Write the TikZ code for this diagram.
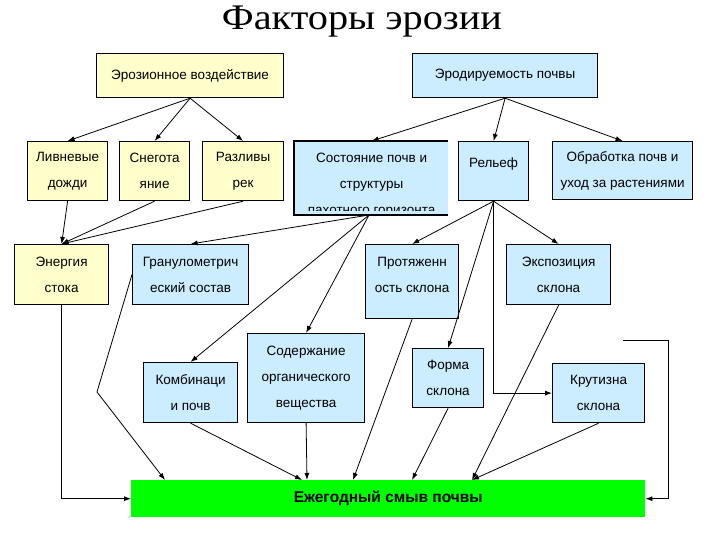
\documentclass[tikz,border=0pt]{standalone}
\usepackage{fontspec}
\setmainfont{Liberation Serif}
\setsansfont{Liberation Sans}
\newfontfamily\titlefont[FakeStretch=1.12]{Liberation Serif}
\usetikzlibrary{arrows.meta,positioning,calc}

\definecolor{boxyellow}{RGB}{255,255,204}
\definecolor{boxblue}{RGB}{204,236,255}
\definecolor{smyvgreen}{RGB}{0,255,0}

\begin{document}
\begin{tikzpicture}[x=1pt, y=-1pt, >={Latex[length=7pt,width=5pt]},
  every node/.style={font=\sffamily\fontsize{13.5}{26}\selectfont},
  box/.style={draw, line width=1.2pt, anchor=north west, align=center, inner sep=2pt},
  ybox/.style={box, fill=boxyellow},
  bbox/.style={box, fill=boxblue},
  link/.style={->, line width=0.8pt}]
\useasboundingbox[fill=white] (0,0) rectangle (720,540);

\node[font=\titlefont\fontsize{36}{36}\selectfont, anchor=base] (title) at (362,30) {Факторы эрозии};

\node[ybox, minimum width=187pt, minimum height=44pt] (erz) at (96,53) {Эрозионное воздействие};
\node[bbox, minimum width=185pt, minimum height=44pt] (erd) at (412,53) {Эродируемость почвы};

\node[ybox, minimum width=80pt, minimum height=59pt] (liv) at (27,141) {Ливневые\\дожди};
\node[ybox, minimum width=70pt, minimum height=59pt] (sneg) at (119,141) {Снегота\\яние};
\node[ybox, minimum width=81pt, minimum height=59pt] (razl) at (202,141) {Разливы\\рек};
% cut-off box
\fill[boxblue] (294,141) rectangle (448,215);
\begin{scope}
  \clip (294,141) rectangle (448,211);
  \node[box, draw=none, minimum width=154pt, minimum height=88pt] (sost) at (294,141) {Состояние почв и\\структуры\\пахотного горизонта};
\end{scope}
\draw[line width=1.2pt] (448,141) -- (294,141) -- (294,215) -- (448,215);
\coordinate (sost-s) at (369,215);
\node[bbox, minimum width=70pt, minimum height=59pt, text depth=16pt] (rel) at (458,141) {Рельеф};
\node[bbox, minimum width=140pt, minimum height=58pt] (obr) at (552,141) {Обработка почв и\\уход за растениями};

\node[ybox, minimum width=94pt, minimum height=60pt] (energ) at (14,244) {Энергия\\стока};
\node[bbox, minimum width=116pt, minimum height=60pt] (gran) at (132,244) {Гранулометрич\\еский состав};
\node[bbox, minimum width=93pt, minimum height=74pt, text depth=14pt] (prot) at (365,244) {Протяженн\\ость склона};
\node[bbox, minimum width=104pt, minimum height=60pt] (eksp) at (506,244) {Экспозиция\\склона};

\node[bbox, minimum width=117pt, minimum height=89pt] (sod) at (247,333) {Содержание\\органического\\вещества};
\node[bbox, minimum width=94pt, minimum height=60pt] (komb) at (143,362) {Комбинаци\\и почв};
\node[bbox, minimum width=71pt, minimum height=59pt] (forma) at (412,348) {Форма\\склона};
\node[bbox, minimum width=92pt, minimum height=59pt] (krut) at (552,363) {Крутизна\\склона};

\node[anchor=north west, fill=smyvgreen, minimum width=514pt, minimum height=37pt, inner sep=0pt,
  font=\sffamily\bfseries\fontsize{15.5}{15.5}\selectfont] (smyv) at (131,480) {Ежегодный смыв почвы};

\coordinate (granbend) at (97,392);
\coordinate (krutR) at (623,340);
\coordinate (rbend) at (668,340);

\draw[link] (erz.south) -- (liv.north);
\draw[link] (erz.south) -- (sneg.north);
\draw[link] (erz.south) -- (razl.north);
\draw[link] (erd.south) -- (sost.north);
\draw[link] (erd.south) -- (rel.north);
\draw[link] (erd.south) -- (obr.north);

\draw[link] (liv.south) -- (energ.north);
\draw[link] (sneg.south) -- (energ.north);
\draw[link] (razl.south) -- (energ.north);
\draw[link] (sost-s) -- (gran.north);
\draw[link] (sost-s) -- (komb.north);
\draw[link] (sost-s) -- (sod.north);
\draw[link] (rel.south) -- (prot.north);
\draw[link] (rel.south) -- (forma.north);
\draw[link] (rel.south) -- (eksp.north);
\draw[link] (rel.south) |- (krut.west);

\draw[link] (energ.south) |- (smyv.west);
\draw[link] (gran.west) -- (granbend) -- ($(smyv.north west)+(34,0)$);
\draw[link] (komb.south) -- ($(smyv.north west)+(171,0)$);
\draw[link] (sod.south) -- ($(smyv.north west)+(176,0)$);
\draw[link] (prot.south) -- ($(smyv.north west)+(222,0)$);
\draw[link] (forma.south) -- ($(smyv.north west)+(281,0)$);
\draw[link] (eksp.south) -- ($(smyv.north west)+(341,0)$);
\draw[link] (krut.south) -- ($(smyv.north west)+(341,0)$);
\draw[link] (krutR) -- (rbend) |- (smyv.east);
\end{tikzpicture}
\end{document}
